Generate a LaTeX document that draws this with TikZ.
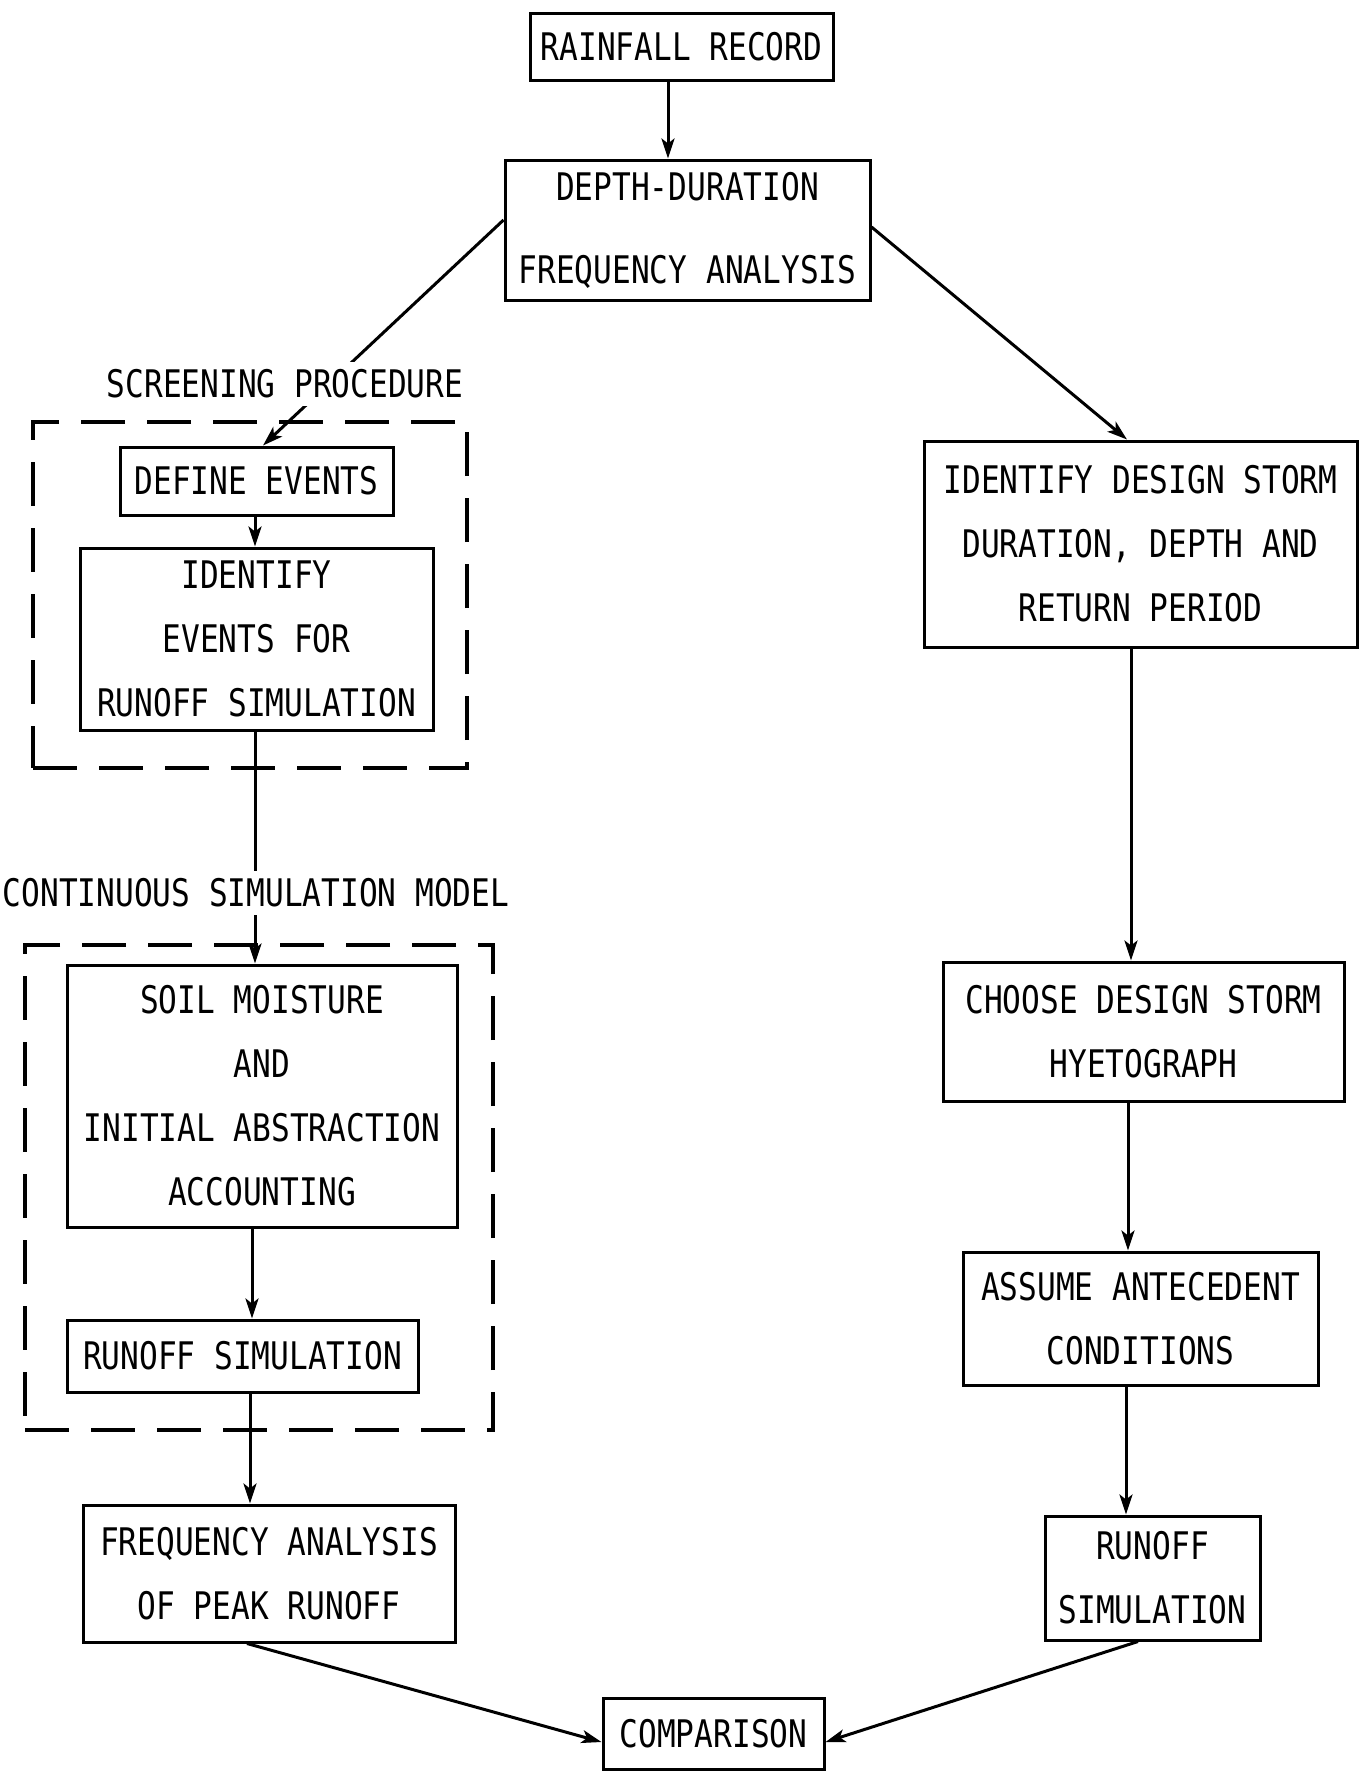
\documentclass[tikz,border=0pt]{standalone}
\usepackage{fontspec}
\newfontfamily\lett[FakeStretch=0.82]{DejaVu Sans Mono}
\usetikzlibrary{arrows.meta}
\begin{document}
\begin{tikzpicture}[x=1pt,y=-1pt,
  every node/.style={font=\lett\fontsize{38}{64}\selectfont},
  box/.style={draw, line width=3pt, align=center, inner sep=0pt},
  grp/.style={draw, line width=3.2pt, dash pattern=on 44pt off 22pt, inner sep=0pt},
  tag/.style={fill=white, inner xsep=6pt, inner ysep=8pt},
  arr/.style={line width=3pt, -{Stealth[length=20pt,width=13pt,inset=5pt]}}]
\fill[white] (0,0) rectangle (1366,1772);
\useasboundingbox (0,0) rectangle (1366,1772);

% dashed groups
\node[grp, minimum width=434pt, minimum height=346pt] (grp1) at (250,595) {};
\node[grp, minimum width=468pt, minimum height=485pt] (grp2) at (259,1187.5) {};

% boxes
\node[box, minimum width=303pt, minimum height=67pt] (rain) at (681.5,46.5) {RAINFALL RECORD};
\node[box, minimum width=365pt, minimum height=140pt] (depth) at (687.5,230) {\raisebox{-4pt}{DEPTH-DURATION}\\[19pt]\raisebox{-4pt}{FREQUENCY ANALYSIS}};
\node[box, minimum width=273pt, minimum height=68pt] (define) at (256.5,481) {DEFINE EVENTS};
\node[box, minimum width=353pt, minimum height=182pt] (identev) at (256.5,639) {IDENTIFY\\EVENTS FOR\\RUNOFF SIMULATION};
\node[box, minimum width=390pt, minimum height=262pt] (soil) at (262,1096) {SOIL MOISTURE\\AND\\INITIAL ABSTRACTION\\ACCOUNTING};
\node[box, minimum width=351pt, minimum height=72pt] (runL) at (242.5,1356) {RUNOFF SIMULATION};
\node[box, minimum width=372pt, minimum height=137pt] (freq) at (269,1573.5) {FREQUENCY ANALYSIS\\OF PEAK RUNOFF};
\node[box, minimum width=221pt, minimum height=71pt] (comp) at (713.5,1733.5) {COMPARISON};
\node[box, minimum width=433pt, minimum height=206pt] (idstorm) at (1140.5,544) {IDENTIFY DESIGN STORM\\DURATION, DEPTH AND\\RETURN PERIOD};
\node[box, minimum width=401pt, minimum height=139pt] (choose) at (1143.5,1031.5) {CHOOSE DESIGN STORM\\HYETOGRAPH};
\node[box, minimum width=355pt, minimum height=133pt] (assume) at (1140.5,1318.5) {ASSUME ANTECEDENT\\CONDITIONS};
\node[box, minimum width=215pt, minimum height=124pt] (runR) at (1152.5,1578) {RUNOFF\\SIMULATION};

% connectors
\draw[arr] ([xshift=-13.5pt]rain.south) -- ([xshift=-13.5pt]rain.south |- depth.north);
\draw[arr] ([yshift=10pt]depth.west) -- ([xshift=6.5pt]define.north);
\draw[arr] ([yshift=3pt]depth.east) -- ([xshift=-13.5pt]idstorm.north);
\draw[arr] ([xshift=-1.5pt]define.south) -- ([xshift=-1.5pt]define.south |- identev.north);
\draw[arr] ([xshift=-1.5pt]identev.south) -- ([xshift=-1.5pt]identev.south |- soil.north);
\draw[arr] ([xshift=-10pt]soil.south) -- ([xshift=-10pt]soil.south |- runL.north);
\draw[arr] ([xshift=7.5pt]runL.south) -- ([xshift=7.5pt]runL.south |- freq.north);
\draw[arr] ([xshift=-22pt]freq.south) -- ([yshift=-8.5pt]comp.west);
\draw[arr] ([xshift=-14.5pt]runR.south) -- ([yshift=-8.5pt]comp.east);
\draw[arr] ([xshift=-9.5pt]idstorm.south) -- ([xshift=-9.5pt]idstorm.south |- choose.north);
\draw[arr] ([xshift=-15.5pt]choose.south) -- ([xshift=-15.5pt]choose.south |- assume.north);
\draw[arr] ([xshift=-14.5pt]assume.south) -- ([xshift=-14.5pt]assume.south |- runR.north);

% group labels
\node[tag] (screen) at (285,384) {SCREENING PROCEDURE};
\node[tag] (contin) at (256,893) {CONTINUOUS SIMULATION MODEL};
\end{tikzpicture}
\end{document}
